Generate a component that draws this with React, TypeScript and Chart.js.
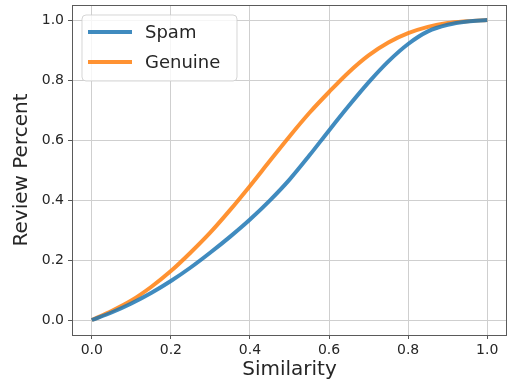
import React, { useEffect, useRef } from "react";
import { Chart, registerables } from "chart.js";

Chart.register(...registerables);

// Cumulative share of reviews at or below each similarity value
const similarity = [0, 0.05, 0.1, 0.15, 0.2, 0.25, 0.3, 0.35, 0.4, 0.45, 0.5, 0.55, 0.6, 0.65, 0.7, 0.75, 0.8, 0.85, 0.9, 0.95, 1.0];
const spamPercent = [0, 0.025, 0.055, 0.09, 0.13, 0.175, 0.225, 0.278, 0.335, 0.398, 0.468, 0.548, 0.632, 0.714, 0.792, 0.862, 0.92, 0.962, 0.984, 0.995, 1.0];
const genuinePercent = [0, 0.03, 0.065, 0.11, 0.163, 0.225, 0.292, 0.367, 0.447, 0.53, 0.612, 0.69, 0.76, 0.826, 0.882, 0.925, 0.956, 0.977, 0.99, 0.996, 1.0];
const tickValues = [0, 0.2, 0.4, 0.6, 0.8, 1.0];

const seriesNames = ["Spam", "Genuine"];
const seriesColors = ["rgba(31,119,180,0.85)", "rgba(255,127,14,0.85)"];

const FONT = "'DejaVu Sans', sans-serif";
const TEXT = "#262626";

// Frame around the plotting area on all four sides
const framePlugin = {
  id: "frame",
  afterDraw(chart: any) {
    const { ctx, chartArea: a } = chart;
    ctx.save();
    ctx.strokeStyle = "#5a5a5a";
    ctx.lineWidth = 1;
    ctx.strokeRect(Math.round(a.left) + 0.5, Math.round(a.top) + 0.5, Math.round(a.right - a.left) - 1, Math.round(a.bottom - a.top));
    ctx.restore();
  },
};

// Legend box placed inside the upper-left corner of the plot
const innerLegendPlugin = {
  id: "innerLegend",
  afterDraw(chart: any) {
    const { ctx, chartArea: a } = chart;
    const x0 = a.left + 10;
    const y0 = a.top + 10;
    const w = 155;
    const h = 66;
    ctx.save();
    ctx.beginPath();
    const r = 4;
    ctx.moveTo(x0 + r, y0);
    ctx.arcTo(x0 + w, y0, x0 + w, y0 + h, r);
    ctx.arcTo(x0 + w, y0 + h, x0, y0 + h, r);
    ctx.arcTo(x0, y0 + h, x0, y0, r);
    ctx.arcTo(x0, y0, x0 + w, y0, r);
    ctx.closePath();
    ctx.fillStyle = "rgba(255,255,255,0.8)";
    ctx.fill();
    ctx.strokeStyle = "rgba(204,204,204,0.8)";
    ctx.lineWidth = 1;
    ctx.stroke();
    chart.data.datasets.forEach((ds: any, i: number) => {
      const y = y0 + 17 + i * 30;
      ctx.beginPath();
      ctx.moveTo(x0 + 6, y);
      ctx.lineTo(x0 + 50, y);
      ctx.strokeStyle = ds.borderColor;
      ctx.lineWidth = 4;
      ctx.stroke();
      ctx.fillStyle = TEXT;
      ctx.font = `18px ${FONT}`;
      ctx.textBaseline = "middle";
      ctx.textAlign = "left";
      ctx.fillText(ds.label, x0 + 63, y + 1);
    });
    ctx.restore();
  },
};

export default function App() {
  const canvasRef = useRef<HTMLCanvasElement | null>(null);

  useEffect(() => {
    const canvas = canvasRef.current;
    if (!canvas) return;
    const toPoints = (ys: number[]) => similarity.map((x, i) => ({ x, y: ys[i] }));
    const chart = new Chart(canvas, {
      type: "line",
      data: {
        datasets: [
          {
            label: seriesNames[0],
            data: toPoints(spamPercent),
            borderColor: seriesColors[0],
            borderWidth: 4,
            pointRadius: 0,
            cubicInterpolationMode: "monotone",
          },
          {
            label: seriesNames[1],
            data: toPoints(genuinePercent),
            borderColor: seriesColors[1],
            borderWidth: 4,
            pointRadius: 0,
            cubicInterpolationMode: "monotone",
          },
        ],
      },
      options: {
        animation: false,
        responsive: false,
        devicePixelRatio: 1,
        layout: { padding: { top: 5, right: 1, left: 0, bottom: 0 } },
        plugins: {
          legend: { display: false },
          tooltip: { enabled: false },
        },
        scales: {
          x: {
            type: "linear",
            min: -0.05,
            max: 1.05,
            afterBuildTicks: (s: any) => {
              s.ticks = tickValues.map((v) => ({ value: v }));
            },
            afterFit: (s: any) => {
              s.height = 50;
              s.paddingLeft = 0;
              s.paddingRight = 0;
            },
            ticks: {
              color: TEXT,
              font: { family: FONT, size: 14 },
              padding: 3,
              maxRotation: 0,
              callback: (v: any) => Number(v).toFixed(1),
            },
            grid: { color: "#cfcfcf", tickColor: "#5a5a5a", tickLength: 4, lineWidth: 1 },
            border: { display: false },
            title: {
              display: true,
              text: "Similarity",
              color: TEXT,
              font: { family: FONT, size: 20 },
              padding: { top: 0, bottom: 3 },
            },
          },
          y: {
            type: "linear",
            min: -0.05,
            max: 1.05,
            afterBuildTicks: (s: any) => {
              s.ticks = tickValues.map((v) => ({ value: v }));
            },
            afterFit: (s: any) => {
              s.width = 72;
              s.paddingTop = 0;
              s.paddingBottom = 0;
            },
            ticks: {
              color: TEXT,
              font: { family: FONT, size: 14 },
              padding: 4,
              callback: (v: any) => Number(v).toFixed(1),
            },
            grid: { color: "#cfcfcf", tickColor: "#5a5a5a", tickLength: 4, lineWidth: 1 },
            border: { display: false },
            title: {
              display: true,
              text: "Review Percent",
              color: TEXT,
              font: { family: FONT, size: 20 },
              padding: { top: 10, bottom: 0 },
            },
          },
        },
      },
      plugins: [framePlugin, innerLegendPlugin],
    } as any);
    return () => chart.destroy();
  }, []);

  return (
    <div style={{ position: "fixed", left: 0, top: 0, width: 508, height: 385, background: "#ffffff" }}>
      <canvas ref={canvasRef} width={508} height={385} style={{ display: "block", width: 508, height: 385 }} />
    </div>
  );
}
